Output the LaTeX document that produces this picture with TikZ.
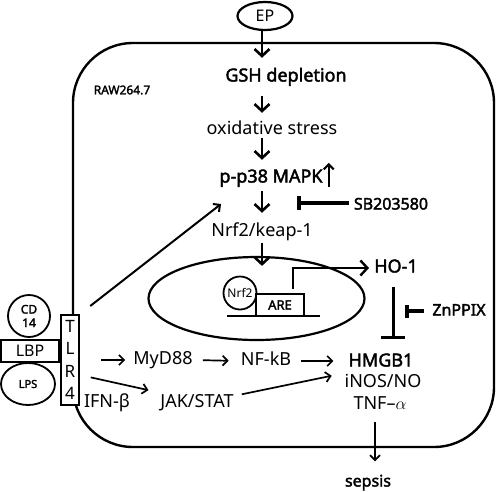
\documentclass[tikz,border=0pt]{standalone}
\usepackage{fontspec}
\setmainfont{Noto Sans}[AutoFakeBold=2.2]
\usetikzlibrary{arrows.meta,shapes.geometric,calc}
\begin{document}
\begin{tikzpicture}[x=1pt,y=-1pt,
  every node/.style={inner sep=2pt},
  big/.style={font=\fontsize{18}{20}\selectfont, text height=13pt, text depth=4pt},
  bigb/.style={font=\fontsize{18}{20}\selectfont\bfseries, text height=13pt, text depth=4pt},
  midb/.style={font=\fontsize{16}{18}\selectfont\bfseries, text height=12pt, text depth=3pt},
  smallb/.style={font=\fontsize{12}{14}\selectfont\bfseries},
  outline/.style={draw, line width=2.2pt},
  arr/.style={line width=2.6pt, -{Straight Barb[length=7pt,width=15pt]}},
  sarr/.style={line width=1.7pt, -{Straight Barb[length=5pt,width=10pt]}},
  inh/.style={line width=3.5pt, -{Bar[width=14pt]}},
  inhbig/.style={line width=3pt, -{Bar[width=24pt]}},
]
\useasboundingbox (0,0) rectangle (496,491);

% cell
\draw[line width=2.4pt, rounded corners=60pt] (73,43) rectangle (494,447);
\node[smallb] (raw) at (122,90) {RAW264.7};

% guides for vertical arrows
\coordinate (ax) at (262,0);
\coordinate (pr) at (293,0);
\coordinate (hx) at (393,0);
\coordinate (sx) at (375,0);

% top chain
\node[outline, ellipse, minimum width=55pt, minimum height=28pt, inner sep=0pt,
      font=\fontsize{16}{18}\selectfont] (EP) at (265,16) {EP};
\node[bigb] (GSH) at (286,77) {GSH depletion};
\node[big] (ox) at (272,130) {oxidative stress};
\node[bigb] (p38) at (271,178) {p-p38 MAPK};
\node[big] (nrfk) at (262,232) {Nrf2/keap-1};
\node[midb] (SB) at (391,205) {SB203580};

\draw[arr, shorten >=8.5pt] (EP.south -| ax) -- (GSH.north -| ax);
\draw[arr, shorten <=8.5pt, shorten >=6.5pt] (GSH.south -| ax) -- (ox.north -| ax);
\draw[arr, shorten <=-2.5pt, shorten >=7.5pt] (ox.south -| ax) -- (p38.north -| ax);
\draw[arr, shorten <=2.5pt, shorten >=8.5pt] (p38.south -| ax) -- (nrfk.north -| ax);
\draw[line width=2.2pt, -{Straight Barb[length=5pt,width=10pt]}]
  ([xshift=4pt,yshift=1.5pt]p38.south east) -- ([xshift=4pt,yshift=4.5pt]p38.north east);

\coordinate (sbbar) at (297,203);
\draw[inh, shorten <=3pt] (SB.west |- sbbar) -- (sbbar);

% nucleus
\node[outline, ellipse, minimum width=216pt, minimum height=83pt, inner sep=0pt] (nuc) at (256.5,298.5) {};
\draw[arr, shorten >=-10pt] (nrfk.south -| ax) -- (nuc.north -| ax);
\draw[line width=1.5pt] (227,316) -- (320,316);
\node[draw, line width=1.8pt, circle, minimum size=33pt, inner sep=0pt,
      font=\fontsize{12}{14}\selectfont] (nrf2) at (240,293) {Nrf2};
\node[draw, line width=2pt, fill=white, minimum width=48pt, minimum height=22pt, inner sep=0pt,
      font=\fontsize{13}{15}\selectfont\bfseries] (ARE) at (280,305) {ARE};
\node[bigb] (HO) at (396,268) {HO-1};
\draw[arr, line width=2.4pt, shorten <=4pt, shorten >=3pt] (ARE.north -| pr) |- (HO.west);

% lower right
\node[bigb] (HMGB) at (381,362) {HMGB1};
\node[big] (inos) at (383,383) {iNOS/NO};
\node[big] (TNF) at (380,405) {TNF--$\alpha$};
\node[midb] (sepsis) at (368,482) {sepsis};
\node[midb] (Zn) at (459,311) {ZnPPIX};
\coordinate (znbar) at (405,311);
\draw[inhbig, shorten <=8.5pt, shorten >=12.5pt] (HO.south -| hx) -- (HMGB.north -| hx);
\draw[inh, line width=3.5pt, -{Bar[width=13pt]}, shorten <=6pt] (Zn.west) -- (znbar);
\draw[sarr, shorten <=6pt, shorten >=11pt] (TNF.south -| sx) -- (sepsis.north -| sx);

% receptor complex
\node[draw, line width=1.8pt, circle, minimum size=42pt, inner sep=0pt, align=center,
      font=\fontsize{12}{13.5}\selectfont\bfseries] (CD) at (29,316) {CD\\14};
\node[draw, line width=1.8pt, minimum width=58pt, minimum height=22pt, inner sep=0pt,
      font=\fontsize{16}{18}\selectfont] (LBP) at (30,351) {LBP};
\node[draw, line width=1.8pt, ellipse, minimum width=54pt, minimum height=42pt, inner sep=0pt,
      font=\fontsize{11}{13}\selectfont\bfseries] (LPS) at (28,384) {LPS};
\node[draw, line width=2pt, fill=white, minimum width=18pt, minimum height=90pt, inner sep=0pt,
      align=center, font=\fontsize{17}{22.5}\selectfont] (TLR) at (70,360) {T\\L\\R\\4};

% signalling
\node[big] (MyD) at (163,360) {MyD88};
\node[big] (NFkB) at (266,361) {NF-kB};
\node[big] (IFN) at (107,403) {IFN-β};
\node[big] (JAK) at (197,403) {JAK/STAT};
\coordinate (p38in) at (221,204);

\draw[sarr, line width=2pt, shorten <=13pt] (TLR.north east) -- (p38in);
\draw[sarr, shorten <=21pt, shorten >=6pt] (TLR.east |- MyD.west) -- (MyD.west);
\draw[sarr, shorten <=8pt, shorten >=10pt] (MyD.east) -- (NFkB.west);
\draw[sarr, shorten <=8pt, shorten >=13pt] (NFkB.east) -- (HMGB.west |- NFkB.east);
\draw[sarr, shorten <=11pt, shorten >=10pt] ($(TLR.east)+(0,15)$) -- (JAK.north west);
\draw[sarr, shorten >=15pt] ($(JAK.north east)+(6,2)$) -- (HMGB.south west);
\end{tikzpicture}
\end{document}
